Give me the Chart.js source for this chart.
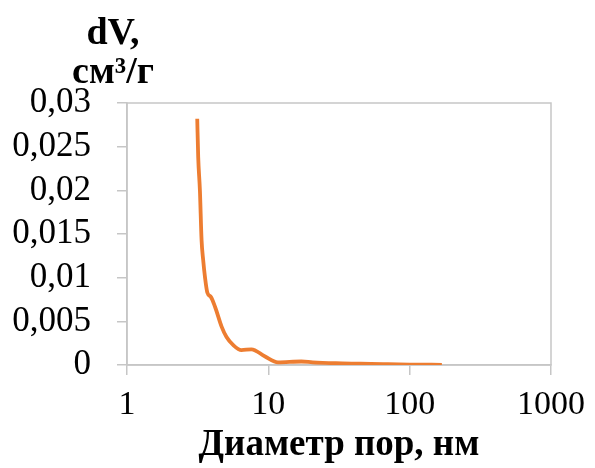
<!DOCTYPE html>
<html>
<head>
<meta charset="utf-8">
<script src="https://cdn.jsdelivr.net/npm/chart.js@4.4.1/dist/chart.umd.min.js"></script>
<style>
  html, body { margin: 0; padding: 0; background: #fff; }
  #wrap { width: 595px; height: 468px; }
</style>
</head>
<body>
<div id="wrap"><canvas id="myChart" width="595" height="468"></canvas></div>
<script>
// диаметр пор, нм
var diametr = [3.14, 3.19, 3.28, 3.37, 3.46, 3.56, 3.70, 3.92, 4.19, 4.67, 5.06, 5.63, 6.45, 7.59, 9.42, 11.7, 17.1, 20.6, 30, 45, 65, 100, 169];
// dV, см3/г
var dV = [0.0282, 0.0238, 0.0200, 0.0143, 0.0120, 0.0101, 0.0083, 0.0078, 0.0067, 0.0044, 0.0032, 0.0023, 0.0017, 0.0018, 0.0010, 0.0003, 0.0004, 0.0003, 0.0002, 0.00015, 0.0001, 0.00005, 0.00002];
var xTicks = [1, 10, 100, 1000];
var yMax = 0.03;
var yStep = 0.005;

var fontFam = '"Liberation Serif", "Times New Roman", serif';
var gridColor = '#c6c6c6';

var puntos = [];
for (var i = 0; i < diametr.length; i++) {
    puntos.push({x: diametr[i], y: dV[i]});
}

var marco = {
    id: 'marco',
    beforeDatasetsDraw: function(chart) {
        var a = chart.chartArea;
        var ctx = chart.ctx;
        ctx.save();
        ctx.strokeStyle = gridColor;
        ctx.lineWidth = 1.5;
        ctx.strokeRect(a.left, a.top, a.right - a.left, a.bottom - a.top);
        ctx.restore();
    }
};

var tituloY = {
    id: 'tituloY',
    afterDraw: function(chart) {
        var ctx = chart.ctx;
        ctx.save();
        ctx.fillStyle = '#000';
        ctx.font = 'bold 38px ' + fontFam;
        ctx.textAlign = 'center';
        ctx.textBaseline = 'alphabetic';
        ctx.fillText('dV,', 113, 44);
        ctx.fillText('см³/г', 113, 83);
        ctx.restore();
    }
};

var grafico = new Chart(document.getElementById('myChart'), {
    type: 'line',
    data: {
        datasets: [{
            data: puntos,
            borderColor: '#ED7D31',
            borderWidth: 3.8,
            pointRadius: 0,
            fill: false,
            cubicInterpolationMode: 'monotone'
        }]
    },
    options: {
        responsive: false,
        animation: false,
        layout: { padding: { top: 103, right: 42, left: 0, bottom: 0 } },
        plugins: {
            legend: { display: false },
            tooltip: { enabled: false }
        },
        scales: {
            x: {
                type: 'logarithmic',
                min: xTicks[0],
                max: xTicks[xTicks.length - 1],
                afterBuildTicks: function(axis) {
                    axis.ticks = xTicks.map(function(v) { return {value: v}; });
                },
                afterFit: function(axis) { axis.height = 103; },
                grid: { drawOnChartArea: false, drawTicks: true, tickLength: 10, color: gridColor, lineWidth: 1.5 },
                border: { display: true, color: gridColor, width: 1.5 },
                ticks: {
                    color: '#000',
                    font: { family: fontFam, size: 34 },
                    padding: 10,
                    maxRotation: 0,
                    autoSkip: false,
                    callback: function(v) { return String(v); }
                },
                title: {
                    display: true,
                    text: 'Диаметр пор, нм',
                    color: '#000',
                    font: { family: fontFam, size: 37, weight: 'bold' },
                    padding: { top: 0, bottom: 0 }
                }
            },
            y: {
                min: 0,
                max: yMax,
                afterFit: function(axis) { axis.width = 127; },
                grid: { drawOnChartArea: false, drawTicks: true, tickLength: 10, color: gridColor, lineWidth: 1.5 },
                border: { display: true, color: gridColor, width: 1.5 },
                ticks: {
                    stepSize: yStep,
                    autoSkip: false,
                    color: '#000',
                    font: { family: fontFam, size: 35 },
                    padding: 26,
                    callback: function(v) { return String(Number(v.toFixed(3))).replace('.', ','); }
                }
            }
        }
    },
    plugins: [marco, tituloY]
});
</script>
</body>
</html>
